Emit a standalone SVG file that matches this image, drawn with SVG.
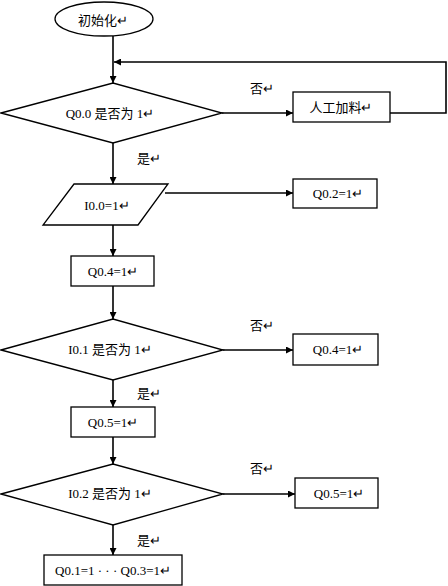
<svg xmlns="http://www.w3.org/2000/svg" width="448" height="586" viewBox="0 0 448 586">
<style>
.s{fill:#fff;stroke:#000;stroke-width:1.3}
.c{fill:none;stroke:#000;stroke-width:1.6}
.t{font-family:"Liberation Serif","Noto Sans CJK SC",serif;font-size:13px;fill:#000;text-anchor:middle;dominant-baseline:central}
.l{font-family:"Liberation Serif","Noto Sans CJK SC",serif;font-size:13px;fill:#000;dominant-baseline:central}
</style>
<defs>
<marker id="a" viewBox="0 0 10 10" refX="10" refY="5" markerWidth="7" markerHeight="7" markerUnits="userSpaceOnUse" orient="auto">
<path d="M0,0L10,5L0,10z" fill="#000"/>
</marker>
</defs>
<rect width="448" height="586" fill="#fff"/>
<g id="connectors">
<path class="c" d="M113,36V83" marker-end="url(#a)"/>
<path class="c" d="M390,113H446V62H114" marker-end="url(#a)"/>
<path class="c" d="M222,113H293" marker-end="url(#a)"/>
<path class="c" d="M113,143V184" marker-end="url(#a)"/>
<path class="c" d="M165,193H293" marker-end="url(#a)"/>
<path class="c" d="M113,225V256" marker-end="url(#a)"/>
<path class="c" d="M113,286V319" marker-end="url(#a)"/>
<path class="c" d="M223,350H293" marker-end="url(#a)"/>
<path class="c" d="M113,380V407" marker-end="url(#a)"/>
<path class="c" d="M113,437V464" marker-end="url(#a)"/>
<path class="c" d="M223,494H295" marker-end="url(#a)"/>
<path class="c" d="M113,525V555" marker-end="url(#a)"/>
<text class="l" x="250" y="88">否↵</text>
<text class="l" x="137" y="158">是↵</text>
<text class="l" x="250" y="325">否↵</text>
<text class="l" x="137" y="393">是↵</text>
<text class="l" x="250" y="468">否↵</text>
<text class="l" x="137" y="540">是↵</text>
</g>
<g id="start">
<ellipse class="s" cx="104" cy="19" rx="49" ry="17"/>
<text class="t" x="103" y="20">初始化↵</text>
</g>
<g id="d1">
<polygon class="s" points="1,113 113,83 222,113 113,143"/>
<text class="t" x="110" y="113">Q0.0 是否为 1↵</text>
</g>
<g id="feed">
<rect class="s" x="293" y="92" width="97" height="30"/>
<text class="t" x="341" y="107">人工加料↵</text>
</g>
<g id="io0">
<polygon class="s" points="74,184 168,184 138,225 43,225"/>
<text class="t" x="107" y="205">I0.0=1↵</text>
</g>
<g id="q02">
<rect class="s" x="293" y="179" width="84" height="29"/>
<text class="t" x="338" y="193">Q0.2=1↵</text>
</g>
<g id="q04a">
<rect class="s" x="71" y="256" width="83" height="30"/>
<text class="t" x="113" y="271">Q0.4=1↵</text>
</g>
<g id="d2">
<polygon class="s" points="1,350 113,319 223,350 113,380"/>
<text class="t" x="110" y="349">I0.1 是否为 1↵</text>
</g>
<g id="q04b">
<rect class="s" x="293" y="334" width="85" height="31"/>
<text class="t" x="338" y="349">Q0.4=1↵</text>
</g>
<g id="q05a">
<rect class="s" x="71" y="407" width="84" height="30"/>
<text class="t" x="113" y="422">Q0.5=1↵</text>
</g>
<g id="d3">
<polygon class="s" points="1,494 113,464 223,494 113,525"/>
<text class="t" x="110" y="493">I0.2 是否为 1↵</text>
</g>
<g id="q05b">
<rect class="s" x="295" y="478" width="83" height="30"/>
<text class="t" x="339" y="493">Q0.5=1↵</text>
</g>
<g id="final">
<rect class="s" x="44" y="555" width="138" height="30"/>
<text class="t" x="113" y="570">Q0.1=1 · · · Q0.3=1↵</text>
</g>
</svg>
